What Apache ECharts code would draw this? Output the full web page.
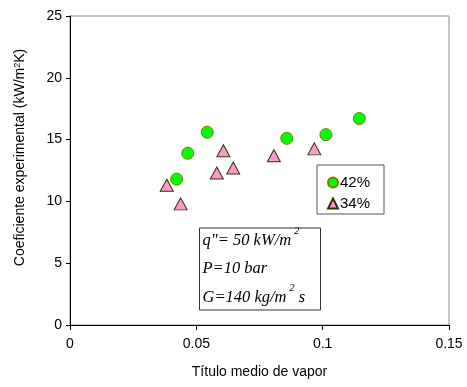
<!DOCTYPE html>
<html>
<head>
<meta charset="utf-8">
<script src="https://cdn.jsdelivr.net/npm/echarts@6/dist/echarts.min.js"></script>
<style>
  html, body { margin: 0; padding: 0; background: #fff; }
  #chart { width: 467px; height: 387px; }
</style>
</head>
<body>
<div id="chart"></div>
<script>
// Vapor quality (x) vs. experimental heat transfer coefficient (kW/m²K)
const quality42 = [0.0422, 0.0466, 0.0543, 0.0858, 0.1013, 0.1145];
const htc42     = [11.8,   13.9,   15.6,   15.1,   15.4,   16.7];
const quality34 = [0.0383, 0.0438, 0.0581, 0.0607, 0.0646, 0.0807, 0.0967];
const htc34     = [11.3,   9.8,    12.3,   14.1,   12.7,   13.7,   14.25];
const xTicks = [0, 0.05, 0.1, 0.15];
const yTicks = [0, 5, 10, 15, 20, 25];

const pairs = (xs, ys) => xs.map((x, i) => [x, ys[i]]);
const FONT = '"Liberation Sans", Arial, sans-serif';
const SERIF = '"Liberation Serif", "Times New Roman", serif';

const chart = echarts.init(document.getElementById('chart'), null, { renderer: 'canvas' });

chart.setOption({
  animation: false,
  backgroundColor: '#ffffff',
  grid: {
    left: 70, right: 18, top: 16, bottom: 62,
    show: true, borderColor: '#8c8c8c', borderWidth: 1
  },
  xAxis: {
    type: 'value',
    min: xTicks[0], max: xTicks[xTicks.length - 1], interval: 0.05,
    name: 'Título medio de vapor',
    nameLocation: 'middle', nameGap: 40,
    nameTextStyle: { fontFamily: FONT, fontSize: 14, color: '#000' },
    axisLine: { show: true, onZero: false, lineStyle: { color: '#000', width: 1 } },
    axisTick: { show: true, inside: false, length: 5, lineStyle: { color: '#000' } },
    axisLabel: { fontFamily: FONT, fontSize: 14, color: '#000', margin: 12 },
    splitLine: { show: false }
  },
  yAxis: {
    type: 'value',
    min: yTicks[0], max: yTicks[yTicks.length - 1], interval: 5,
    name: '{t|Coeficiente experimental (kW/m}{s|2}{t|K)}',
    nameLocation: 'middle', nameGap: 42, nameRotate: 90,
    nameTextStyle: {
      fontFamily: FONT, fontSize: 14, color: '#000',
      padding: [0, 0, 0, 26],
      rich: {
        t: { fontFamily: FONT, fontSize: 14, color: '#000' },
        s: { fontFamily: FONT, fontSize: 9, color: '#000', verticalAlign: 'top', padding: [0, 0, 6, 0] }
      }
    },
    axisLine: { show: true, lineStyle: { color: '#000', width: 1 } },
    axisTick: { show: true, inside: false, length: 4, lineStyle: { color: '#000' } },
    axisLabel: { fontFamily: FONT, fontSize: 14, color: '#000', margin: 8 },
    splitLine: { show: false }
  },
  legend: {
    orient: 'vertical',
    left: 317, top: 165,
    width: 65,
    padding: [10, 14, 3, 10],
    itemGap: 6,
    itemWidth: 10, itemHeight: 10,
    backgroundColor: '#fff',
    borderColor: '#555', borderWidth: 1,
    textStyle: { fontFamily: FONT, fontSize: 15, color: '#000', padding: [0, 0, 0, -3] },
    data: ['42%', '34%']
  },
  series: [
    {
      name: '42%', type: 'scatter',
      symbol: 'circle', symbolSize: 12,
      itemStyle: { color: '#00ff00', borderColor: '#7a7a00', borderWidth: 1, opacity: 1 },
      data: pairs(quality42, htc42),
      z: 3
    },
    {
      name: '34%', type: 'scatter',
      symbol: 'triangle', symbolSize: [13, 12],
      itemStyle: { color: '#ff99cc', borderColor: '#333300', borderWidth: 1, opacity: 1 },
      data: pairs(quality34, htc34),
      z: 3
    }
  ],
  graphic: [
    {
      type: 'group', left: 199, top: 226, z: 10,
      children: [
        {
          type: 'rect',
          shape: { x: 0, y: 0, width: 121, height: 82 },
          style: { fill: '#fff', stroke: '#333', lineWidth: 1 }
        },
        {
          type: 'text', x: 3, y: -2,
          style: {
            text: '{t|q"= 50 kW/m}{s| 2}\n{t|P=10 bar}\n{t|G=140 kg/m}{s| 2}{t| s}',
            lineHeight: 28.5,
            rich: {
              t: { fontFamily: SERIF, fontStyle: 'italic', fontSize: 16.5, color: '#000', lineHeight: 28.5 },
              s: { fontFamily: SERIF, fontStyle: 'italic', fontSize: 11, color: '#000', verticalAlign: 'top', padding: [0, 0, 10, 0], lineHeight: 28.5 }
            }
          }
        }
      ]
    }
  ]
});
</script>
</body>
</html>
